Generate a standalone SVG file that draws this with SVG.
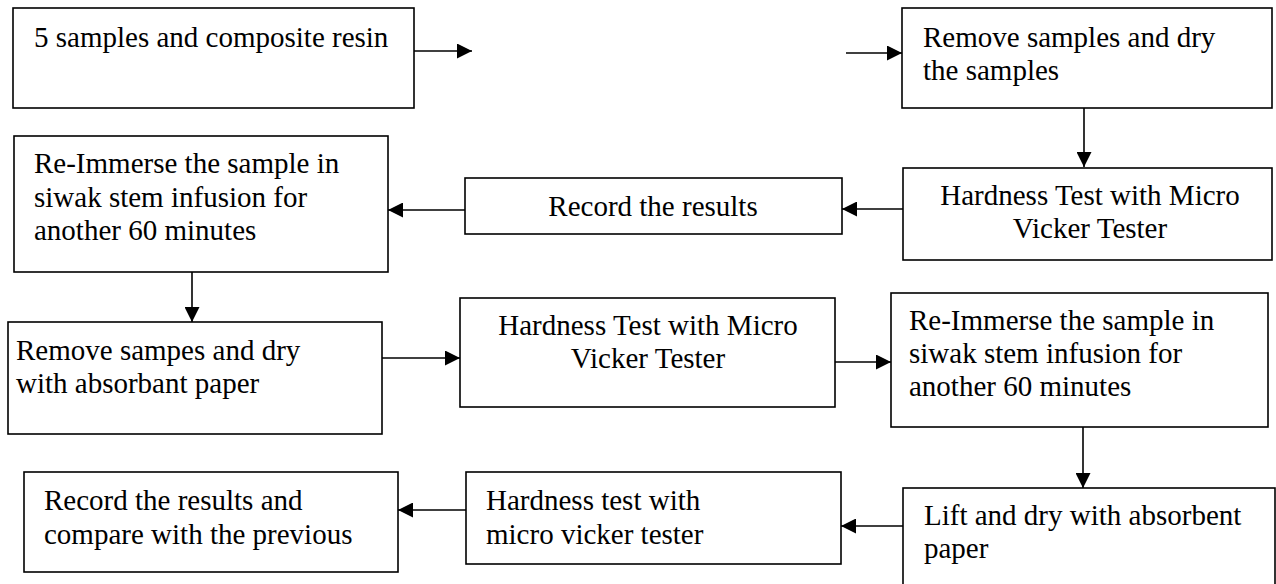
<svg xmlns="http://www.w3.org/2000/svg" width="1276" height="584" viewBox="0 0 1276 584">
<defs>
<style>
.box{fill:#fff;stroke:#000;stroke-width:1.6}
text{font-family:'Liberation Serif','Times New Roman',Times,'DejaVu Serif',serif;font-size:29px;fill:#000}
.c{text-anchor:middle}
.conn line{stroke:#000;stroke-width:1.6;marker-end:url(#ah)}
</style>
<marker id="ah" markerWidth="15" markerHeight="15" refX="15" refY="7.5" orient="auto" markerUnits="userSpaceOnUse">
<path d="M0,0 L15,7.5 L0,15 Z" fill="#000"/>
</marker>
</defs>
<rect width="1276" height="584" fill="#fff"/>
<g font-family="Liberation Serif, Times New Roman, serif" font-size="29">
<g id="n1"><rect class="box" x="13" y="8" width="401" height="100"/><text x="34" y="47">5 samples and composite resin</text></g>
<g id="n2"><rect class="box" x="902" y="8" width="370" height="100"/><text x="923" y="47">Remove samples and dry</text><text x="923" y="80">the samples</text></g>
<g id="n3"><rect class="box" x="903" y="168" width="369" height="92"/><text class="c" x="1090" y="205">Hardness Test with Micro</text><text class="c" x="1090" y="238">Vicker Tester</text></g>
<g id="n4"><rect class="box" x="465" y="178" width="377" height="56"/><text class="c" x="653" y="216">Record the results</text></g>
<g id="n5"><rect class="box" x="14" y="136" width="374" height="136"/><text x="34" y="173">Re-Immerse the sample in</text><text x="34" y="207">siwak stem infusion for</text><text x="34" y="240">another 60 minutes</text></g>
<g id="n6"><rect class="box" x="8" y="322" width="374" height="112"/><text x="16" y="360">Remove sampes and dry</text><text x="16" y="393">with absorbant paper</text></g>
<g id="n7"><rect class="box" x="460" y="298" width="375" height="109"/><text class="c" x="648" y="335">Hardness Test with Micro</text><text class="c" x="648" y="368">Vicker Tester</text></g>
<g id="n8"><rect class="box" x="891" y="293" width="377" height="134"/><text x="909" y="330">Re-Immerse the sample in</text><text x="909" y="363">siwak stem infusion for</text><text x="909" y="396">another 60 minutes</text></g>
<g id="n9"><rect class="box" x="903" y="488" width="372" height="110"/><text x="924" y="525">Lift and dry with absorbent</text><text x="924" y="558">paper</text></g>
<g id="n10"><rect class="box" x="466" y="472" width="375" height="92"/><text x="486" y="510">Hardness test with</text><text x="486" y="544">micro vicker tester</text></g>
<g id="n11"><rect class="box" x="24" y="472" width="374" height="100"/><text x="44" y="510">Record the results and</text><text x="44" y="544">compare with the previous</text></g>
</g>
<g id="connectors" class="conn">
<line x1="414" y1="51" x2="472" y2="51"/>
<line x1="846" y1="53" x2="902" y2="53"/>
<line x1="1084" y1="108" x2="1084" y2="167"/>
<line x1="903" y1="209" x2="842" y2="209"/>
<line x1="465" y1="210" x2="388" y2="210"/>
<line x1="192" y1="272" x2="192" y2="322"/>
<line x1="382" y1="358" x2="460" y2="358"/>
<line x1="835" y1="362" x2="891" y2="362"/>
<line x1="1083" y1="427" x2="1083" y2="488"/>
<line x1="903" y1="526" x2="841" y2="526"/>
<line x1="466" y1="510" x2="398" y2="510"/>
</g>
</svg>
